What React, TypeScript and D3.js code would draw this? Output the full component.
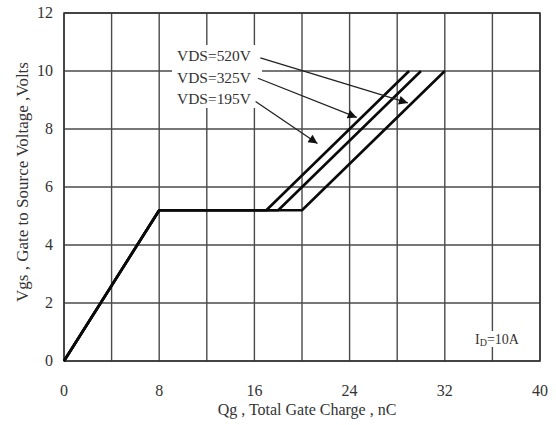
import React, { useEffect, useRef } from "react";
import * as d3 from "d3";

// gate charge curves: [Qg (nC), Vgs (V)]
const curve520 = [[0, 0], [8, 5.2], [17, 5.2], [29, 10]];
const curve325 = [[0, 0], [8, 5.2], [18, 5.2], [30, 10]];
const curve195 = [[0, 0], [8, 5.2], [20, 5.2], [32, 10]];

const vdsLabels = ["VDS=520V", "VDS=325V", "VDS=195V"];
// arrow start / tip in data units
const arrows = [
  [[16.5, 10.45], [28.9, 8.9]],
  [[16.3, 9.75], [24.6, 8.4]],
  [[16.1, 8.95], [21.3, 7.5]],
];

const xTicks = [0, 8, 16, 24, 32, 40];
const yTicks = [0, 2, 4, 6, 8, 10, 12];
const xGrid = [0, 4, 8, 12, 16, 20, 24, 28, 32, 36, 40];

export default function App() {
  const ref = useRef(null);

  useEffect(() => {
    const width = 556;
    const height = 425;
    const svg = d3.select(ref.current).attr("width", width).attr("height", height);
    svg.selectAll("*").remove();

    const font = "'Liberation Serif', 'Times New Roman', serif";
    const x = d3.scaleLinear().domain([0, 40]).range([64, 540]);
    const y = d3.scaleLinear().domain([0, 12]).range([361, 13]);

    svg.append("rect").attr("width", width).attr("height", height).attr("fill", "#fff");

    svg
      .append("defs")
      .append("marker")
      .attr("id", "ah")
      .attr("viewBox", "0 0 10 10")
      .attr("refX", 10)
      .attr("refY", 5)
      .attr("markerWidth", 13)
      .attr("markerHeight", 9)
      .attr("markerUnits", "userSpaceOnUse")
      .attr("orient", "auto")
      .append("path")
      .attr("d", "M0,0L10,5L0,10Z")
      .attr("fill", "#111");

    // grid
    const g = svg.append("g").attr("stroke", "#4a4a4a").attr("stroke-width", 1.4);
    g.selectAll(".vx")
      .data(xGrid)
      .join("line")
      .attr("x1", (d) => x(d))
      .attr("x2", (d) => x(d))
      .attr("y1", y(0))
      .attr("y2", y(12));
    g.selectAll(".hy")
      .data(yTicks)
      .join("line")
      .attr("x1", x(0))
      .attr("x2", x(40))
      .attr("y1", (d) => y(d))
      .attr("y2", (d) => y(d));

    // white boxes behind notes
    svg.append("rect").attr("x", 172).attr("y", 45).attr("width", 90).attr("height", 63).attr("fill", "#fff");
    svg.append("rect").attr("x", 470).attr("y", 331).attr("width", 58).attr("height", 16).attr("fill", "#fff");

    // border
    svg
      .append("rect")
      .attr("x", x(0))
      .attr("y", y(12))
      .attr("width", x(40) - x(0))
      .attr("height", y(0) - y(12))
      .attr("fill", "none")
      .attr("stroke", "#333")
      .attr("stroke-width", 1.5);

    // curves
    const line = d3
      .line()
      .x((d) => x(d[0]))
      .y((d) => y(d[1]));
    svg
      .selectAll(".curve")
      .data([curve195, curve325, curve520])
      .join("path")
      .attr("d", (d) => line(d))
      .attr("fill", "none")
      .attr("stroke", "#0a0a0a")
      .attr("stroke-width", 2.6)
      .attr("stroke-linejoin", "round");

    // annotation labels + arrows
    svg
      .selectAll(".vds")
      .data(vdsLabels)
      .join("text")
      .attr("x", 177)
      .attr("y", (d, i) => 61 + i * 21.5)
      .attr("font-family", font)
      .attr("font-size", 14)
      .attr("fill", "#333")
      .attr("textLength", 74)
      .attr("lengthAdjust", "spacingAndGlyphs")
      .text((d) => d);

    svg
      .selectAll(".arrow")
      .data(arrows)
      .join("line")
      .attr("x1", (d) => x(d[0][0]))
      .attr("y1", (d) => y(d[0][1]))
      .attr("x2", (d) => x(d[1][0]))
      .attr("y2", (d) => y(d[1][1]))
      .attr("stroke", "#222")
      .attr("stroke-width", 1.3)
      .attr("marker-end", "url(#ah)");

    // ID label
    const id = svg
      .append("text")
      .attr("x", 475)
      .attr("y", 344)
      .attr("font-family", font)
      .attr("font-size", 14)
      .attr("fill", "#333");
    id.append("tspan").text("I");
    id.append("tspan").attr("font-size", 10).attr("dy", 2).text("D");
    id.append("tspan").attr("dy", -2).text("=10A");

    // tick labels
    svg
      .selectAll(".xt")
      .data(xTicks)
      .join("text")
      .attr("x", (d) => x(d))
      .attr("y", 396)
      .attr("text-anchor", "middle")
      .attr("font-family", font)
      .attr("font-size", 16)
      .attr("fill", "#333")
      .text((d) => d);
    svg
      .selectAll(".yt")
      .data(yTicks)
      .join("text")
      .attr("x", 53)
      .attr("y", (d) => y(d) + 5)
      .attr("text-anchor", "end")
      .attr("font-family", font)
      .attr("font-size", 16)
      .attr("fill", "#333")
      .text((d) => d);

    // axis titles
    svg
      .append("text")
      .attr("x", 307)
      .attr("y", 415)
      .attr("text-anchor", "middle")
      .attr("font-family", font)
      .attr("font-size", 16)
      .attr("fill", "#333")
      .text("Qg , Total Gate Charge , nC");
    svg
      .append("text")
      .attr("transform", `translate(28, ${182}) rotate(-90)`)
      .attr("text-anchor", "middle")
      .attr("font-family", font)
      .attr("font-size", 17)
      .attr("fill", "#333")
      .text("Vgs , Gate to Source Voltage ,Volts");
  }, []);

  return <svg ref={ref} style={{ position: "absolute", left: 0, top: 0 }} />;
}
